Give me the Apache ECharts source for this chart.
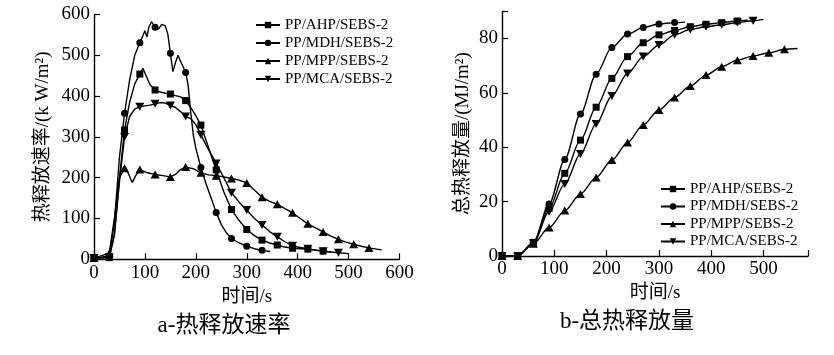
<!DOCTYPE html>
<html>
<head>
<meta charset="utf-8">
<script src="https://cdn.jsdelivr.net/npm/echarts@6/dist/echarts.min.js"></script>
<style>html,body{margin:0;padding:0;background:#fff}#c{width:834px;height:355px}</style>
</head>
<body>
<div id="c"></div>
<script>
// ---- Data ----
const seriesNames = ['PP/AHP/SEBS-2', 'PP/MDH/SEBS-2', 'PP/MPP/SEBS-2', 'PP/MCA/SEBS-2'];
const hrrTicksX = [0, 100, 200, 300, 400, 500, 600];
const hrrTicksY = [0, 100, 200, 300, 400, 500, 600];
const thrTicksX = [0, 100, 200, 300, 400, 500];
const thrTicksY = [0, 20, 40, 60, 80];

// Heat release rate (kW/m2) vs time (s): [t, value]
const hrrAHP = [[0,3],[30,4],[40,60],[50,200],[60,317],[70,385],[80,430],[90,454],[96,468],[103,448],[110,428],[120,415],[130,410],[140,407],[150,405],[160,401],[170,398],[180,389],[190,372],[200,352],[210,329],[220,292],[230,255],[240,219],[255,165],[270,122],[285,95],[300,73],[315,58],[330,47],[345,40],[360,35],[375,30],[390,27],[405,26],[420,25],[435,23],[450,20],[465,18]];
const hrrMDH = [[0,3],[30,8],[40,90],[50,250],[60,358],[70,440],[80,500],[90,531],[96,548],[100,560],[104,545],[108,570],[113,582],[120,569],[127,565],[133,576],[140,572],[145,552],[150,505],[155,460],[160,482],[165,500],[170,485],[175,472],[180,458],[185,425],[190,360],[195,305],[200,272],[210,225],[220,185],[230,150],[240,115],[250,85],[260,65],[270,51],[285,40],[300,32],[315,26],[330,22],[346,19]];
const hrrMPP = [[0,3],[30,15],[40,100],[50,200],[60,223],[67,212],[75,188],[82,205],[90,220],[105,212],[120,208],[135,205],[150,202],[160,208],[170,220],[180,226],[195,222],[210,212],[225,207],[240,205],[255,202],[270,198],[285,194],[300,187],[315,170],[330,152],[345,142],[360,135],[375,124],[390,114],[405,100],[420,87],[435,77],[450,67],[465,57],[480,49],[495,42],[510,37],[525,32],[540,28],[555,25],[565,23]];
const hrrMCA = [[0,3],[30,5],[40,60],[50,190],[60,300],[70,350],[80,368],[90,374],[100,376],[110,378],[120,381],[130,384],[140,383],[150,377],[160,372],[170,362],[180,350],[190,345],[200,330],[210,305],[220,280],[230,258],[240,235],[255,200],[270,163],[285,140],[300,121],[315,100],[330,84],[345,68],[360,55],[375,43],[390,33],[405,29],[420,26],[435,22],[450,20],[465,18],[480,16],[500,14]];

// Total heat release (MJ/m2) vs time (s): [t, value]
const thrAHP = [[0,0],[30,0],[60,5],[90,17.5],[120,30.4],[150,42.6],[180,54.7],[210,65.3],[240,73.3],[270,78.4],[300,81.3],[330,82.9],[360,84.3],[390,85.2],[420,85.8],[450,86.4],[470,86.7]];
const thrMDH = [[0,0],[30,0],[60,5],[90,19.1],[120,35.5],[150,52.2],[180,66.8],[210,76.7],[240,81.6],[270,84],[300,85.3],[330,85.8],[350,86]];
const thrMPP = [[0,0],[30,0],[60,4.5],[90,10.5],[120,16.7],[150,22.8],[180,28.9],[210,35.3],[240,41.7],[270,48.2],[300,53.7],[330,58.3],[360,62.5],[390,66.5],[420,69.6],[450,72],[480,73.5],[510,74.7],[540,76],[565,76.3]];
const thrMCA = [[0,0],[30,0],[60,4.7],[90,16.3],[120,26.5],[150,37.5],[180,48.5],[210,58.8],[240,67.1],[270,73.3],[300,77.6],[330,81.3],[360,83.3],[390,84.3],[420,85],[450,85.8],[480,86.5],[500,87]];

// ---- Styling ----
const FONT = '"Liberation Serif", "Noto Sans CJK SC", serif';
const SYMBOLS = ['rect', 'circle', 'triangle', 'path://M0,0L10,0L5,9Z'];
const SIZES = [7, 7, [9, 8], [9, 8]];

function mkSeries(name, pts, idx, gi, smooth) {
  return {
    name: name, type: 'line', xAxisIndex: gi, yAxisIndex: gi,
    data: pts.map(p => ({ value: p, symbol: (p[0] % 30 === 0) ? SYMBOLS[idx] : 'none' })),
    symbol: SYMBOLS[idx], symbolSize: SIZES[idx], showAllSymbol: true,
    smooth: smooth ? 0.3 : false, smoothMonotone: 'x',
    lineStyle: { color: '#000', width: 1.4 }, itemStyle: { color: '#000' },
    emphasis: { disabled: true }, z: 3
  };
}

function mkAxisBase() {
  return {
    type: 'value',
    axisLine: { show: true, lineStyle: { color: '#000', width: 1.4 } },
    axisTick: { show: true, inside: true, length: 6, lineStyle: { color: '#000', width: 1.2 } },
    splitLine: { show: false },
    axisLabel: { color: '#000', fontSize: 19, fontFamily: FONT, margin: 4 },
    nameTextStyle: { color: '#000', fontSize: 19, fontFamily: FONT },
    nameLocation: 'middle'
  };
}
function labelIn(list) { return v => (list.indexOf(v) >= 0 ? String(v) : ''); }

const xa0 = Object.assign(mkAxisBase(), { gridIndex: 0, min: 0, max: 600, interval: 100, name: '时间/s', nameGap: 22 });
xa0.axisLabel = Object.assign({}, xa0.axisLabel, { formatter: labelIn(hrrTicksX) });
const ya0 = Object.assign(mkAxisBase(), { gridIndex: 0, min: 0, max: 600, interval: 100, name: '热释放速率/(k W/m²)', nameGap: 41 });
ya0.axisLabel = Object.assign({}, ya0.axisLabel, { formatter: labelIn(hrrTicksY) });
const xa1 = Object.assign(mkAxisBase(), { gridIndex: 1, min: 0, max: 585, interval: 100, name: '时间/s', nameGap: 19 });
xa1.axisLabel = Object.assign({}, xa1.axisLabel, { formatter: labelIn(thrTicksX) });
const ya1 = Object.assign(mkAxisBase(), { gridIndex: 1, min: 0, max: 90, interval: 20, name: '总热释放量/(MJ/m²)', nameGap: 29 });
ya1.axisLabel = Object.assign({}, ya1.axisLabel, { formatter: labelIn(thrTicksY) });

const legendBase = {
  orient: 'vertical', itemWidth: 24, itemHeight: 8, itemGap: 0, padding: 0,
  textStyle: { color: '#000', fontSize: 15, fontFamily: FONT, lineHeight: 18 },
  data: seriesNames, selectedMode: false
};

const option = {
  animation: false,
  backgroundColor: '#fff',
  grid: [
    { left: 94, top: 14.5, width: 305.5, height: 244.8 },
    { left: 502, top: 11.2, width: 306, height: 244.8 }
  ],
  xAxis: [xa0, xa1],
  yAxis: [ya0, ya1],
  legend: [
    Object.assign({}, legendBase, { left: 255, top: 16 }),
    Object.assign({}, legendBase, { left: 660, top: 180, itemGap: -0.5 })
  ],
  series: [
    mkSeries(seriesNames[0], hrrAHP, 0, 0, false),
    mkSeries(seriesNames[1], hrrMDH, 1, 0, false),
    mkSeries(seriesNames[2], hrrMPP, 2, 0, false),
    mkSeries(seriesNames[3], hrrMCA, 3, 0, false),
    mkSeries(seriesNames[0], thrAHP, 0, 1, true),
    mkSeries(seriesNames[1], thrMDH, 1, 1, true),
    mkSeries(seriesNames[2], thrMPP, 2, 1, true),
    mkSeries(seriesNames[3], thrMCA, 3, 1, true)
  ],
  graphic: [
    { type: 'text', x: 224, y: 326, style: { text: 'a-热释放速率', fontSize: 23, fontFamily: FONT, fill: '#000', align: 'center', verticalAlign: 'middle' } },
    { type: 'text', x: 627, y: 322, style: { text: 'b-总热释放量', fontSize: 23, fontFamily: FONT, fill: '#000', align: 'center', verticalAlign: 'middle' } }
  ]
};

const chart = echarts.init(document.getElementById('c'), null, { renderer: 'canvas' });
chart.setOption(option);
</script>
</body>
</html>
